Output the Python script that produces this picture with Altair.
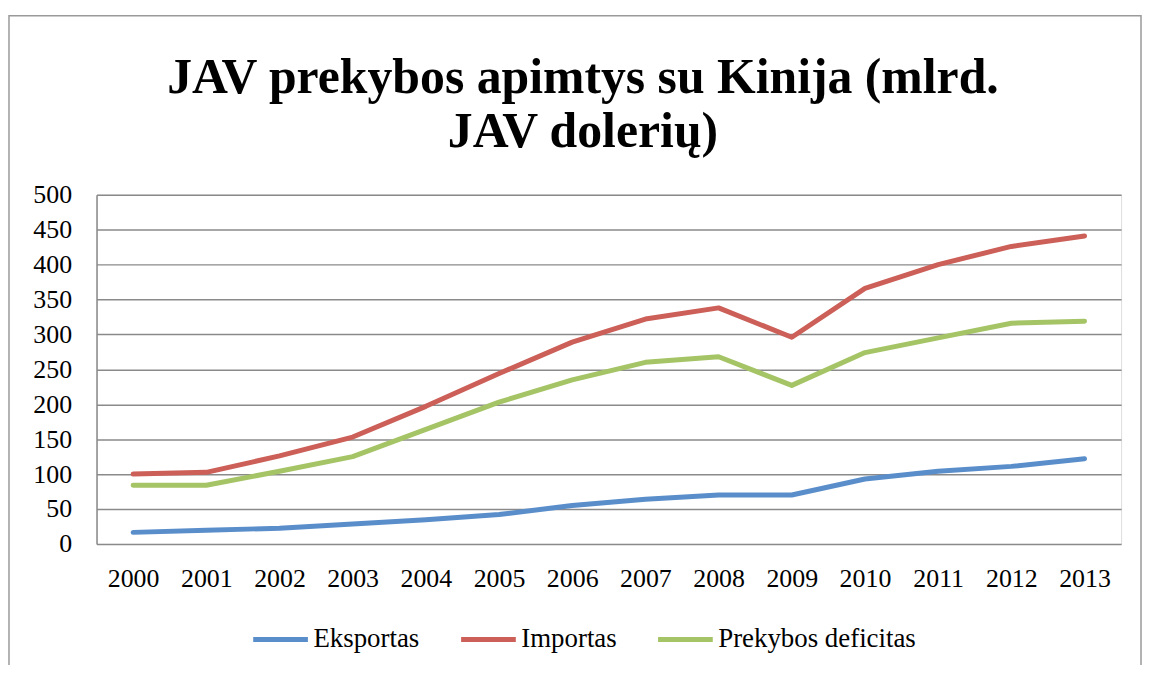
import altair as alt
import pandas as pd

years = [str(y) for y in range(2000, 2014)]
eksportas = [16.5, 19.5, 22.5, 28.5, 34.5, 42, 55, 64, 70, 70, 93, 104, 111, 122]
importas = [100, 102.5, 126, 153, 197, 244, 289, 322, 338, 296, 366, 400, 426, 441]
deficitas = [84, 84, 104, 125, 164, 203, 235, 260, 268, 227, 274, 295, 316, 319]
series = ["Eksportas", "Importas", "Prekybos deficitas"]
colors = ["#5A8ECA", "#CC5F58", "#A5C466"]
y_ticks = list(range(0, 501, 50))

rows = []
for name, vals in zip(series, [eksportas, importas, deficitas]):
    for yr, v in zip(years, vals):
        rows.append({"Metai": yr, "Reikšmė": v, "Serija": name})
df = pd.DataFrame(rows)

FONT = "Liberation Serif"

lines = alt.Chart(df).mark_line(strokeWidth=5, strokeCap="round", strokeJoin="round").encode(
    x=alt.X("Metai:O", sort=years, title=None,
            scale=alt.Scale(type="point", padding=0.5),
            axis=alt.Axis(labelAngle=0, labelFontSize=26, labelFont=FONT, labelColor="black",
                          labelPadding=22, ticks=False, domain=False, grid=False)),
    y=alt.Y("Reikšmė:Q", title=None, scale=alt.Scale(domain=[0, 500]),
            axis=alt.Axis(values=y_ticks, labelFontSize=26, labelFont=FONT, labelColor="black",
                          labelPadding=25, ticks=False, domain=True, domainColor="#8a8a8a",
                          domainWidth=1.5, grid=True, gridColor="#8a8a8a", gridWidth=1.5)),
    color=alt.Color("Serija:N", sort=series,
                    scale=alt.Scale(domain=series, range=colors),
                    legend=alt.Legend(title=None, orient="none", direction="horizontal",
                                      legendX=155, legendY=417, symbolType="stroke",
                                      symbolSize=3025, symbolStrokeWidth=5,
                                      labelFont=FONT, labelFontSize=27, labelColor="black",
                                      labelOffset=3, columnPadding=31, labelLimit=400)),
    detail="Serija:N",
)

frame = alt.Chart(pd.DataFrame({"a": [0]})).mark_rect(
    fill=None, stroke="#9a9a9a", strokeWidth=1.5
).encode(
    x=alt.value(-88), x2=alt.value(1050), y=alt.value(-180), y2=alt.value(700)
)

chart = alt.layer(frame, lines).properties(
    width=1030,
    height=351,
    title=alt.TitleParams(
        text=["JAV prekybos apimtys su Kinija (mlrd.", "JAV dolerių)"],
        font=FONT, fontSize=50, fontWeight="bold", color="black",
        anchor="middle", frame="group", dx=-26, offset=0, dy=143, lineHeight=55,
    ),
    autosize=alt.AutoSizeParams(type="none"),
    padding={"left": 89, "top": 186, "right": 21, "bottom": 120},
).configure_view(stroke=None).configure(background="white")

chart.save("out.html", embed_options={"renderer": "svg", "actions": False})
